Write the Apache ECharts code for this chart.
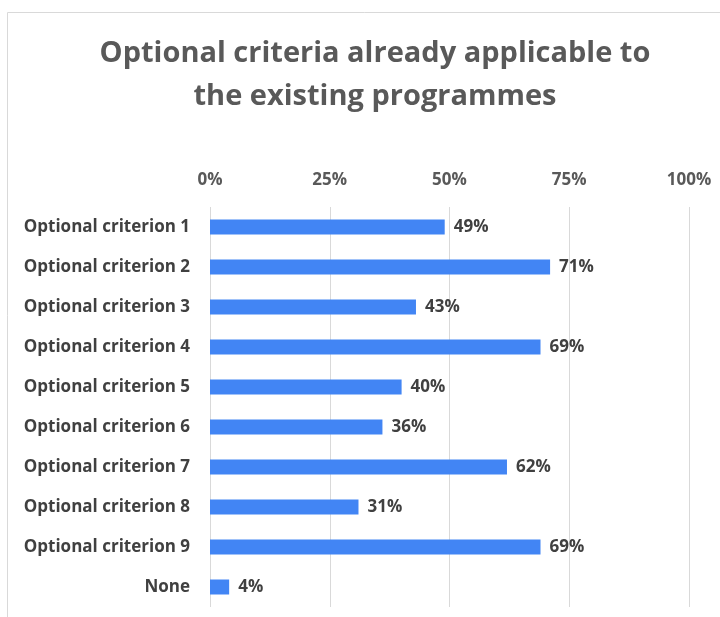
<!doctype html>
<html lang="en">
<head>
	<meta charset="UTF-8">
	<title>Optional criteria</title>
	<style>
		html, body { margin: 0; padding: 0; background: #fff; }
		#chart { width: 720px; height: 617px; }
	</style>
</head>
<body>
	<div id="chart"></div>
	<script src="https://cdn.jsdelivr.net/npm/echarts@6/dist/echarts.min.js"></script>
	<script>
		// data
		var categories = [
			'Optional criterion 1',
			'Optional criterion 2',
			'Optional criterion 3',
			'Optional criterion 4',
			'Optional criterion 5',
			'Optional criterion 6',
			'Optional criterion 7',
			'Optional criterion 8',
			'Optional criterion 9',
			'None'
		];
		var values = [49, 71, 43, 69, 40, 36, 62, 31, 69, 4];
		var ticks = [0, 25, 50, 75, 100];

		var font = '"Open Sans", sans-serif';
		var chart = echarts.init(document.getElementById('chart'));

		var option = {
			animation: false,
			textStyle: { fontFamily: font },
			title: {
				text: 'Optional criteria already applicable to\nthe existing programmes',
				left: 370,
				textAlign: 'center',
				top: 27,
				textStyle: {
					fontFamily: font,
					fontSize: 29,
					fontWeight: 'bold',
					color: '#595959',
					lineHeight: 43
				}
			},
			graphic: [{
				type: 'rect',
				shape: { x: 7.5, y: 12.5, width: 800, height: 700 },
				style: { fill: 'none', stroke: '#d9d9d9', lineWidth: 1 },
				silent: true
			}],
			grid: { left: 210, right: 31, top: 207, height: 400 },
			xAxis: {
				type: 'value',
				position: 'top',
				min: ticks[0],
				max: ticks[ticks.length - 1],
				interval: 25,
				axisLine: { show: false },
				axisTick: { show: false },
				splitLine: { lineStyle: { color: '#d9d9d9', width: 1 } },
				axisLabel: {
					formatter: '{value}%',
					fontFamily: font,
					fontSize: 17,
					fontWeight: 'bold',
					color: '#595959',
					margin: 18
				}
			},
			yAxis: {
				type: 'category',
				inverse: true,
				data: categories,
				axisLine: { show: false },
				axisTick: { show: false },
				axisLabel: {
					fontFamily: font,
					fontSize: 17,
					fontWeight: 'bold',
					color: '#404040',
					margin: 20
				}
			},
			series: [{
				type: 'bar',
				data: values,
				barWidth: 15,
				itemStyle: { color: '#4285f4' },
				label: {
					show: true,
					position: 'right',
					distance: 9,
					formatter: '{c}%',
					fontFamily: font,
					fontSize: 17,
					fontWeight: 'bold',
					color: '#404040'
				}
			}]
		};

		chart.setOption(option);
	</script>
</body>
</html>
